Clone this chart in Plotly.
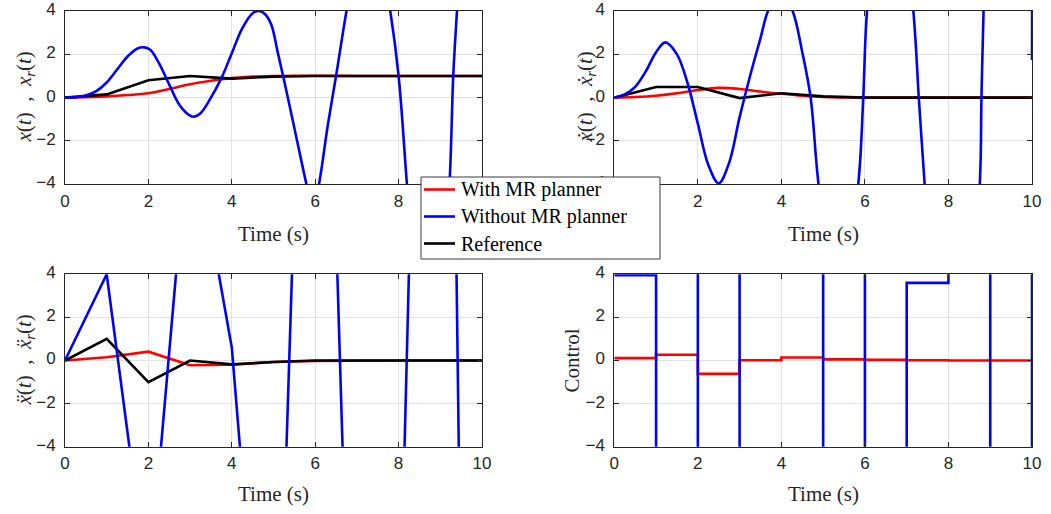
import plotly.graph_objects as go

# ---------------- data ----------------
t_knots = [0, 1, 2, 3, 4, 5, 6, 7, 8, 9, 10]

# position x(t)
pos_with_t = [0, 0.5, 1, 1.5, 2, 2.5, 3, 3.5, 4, 4.5, 5, 5.5, 6, 7, 8, 9, 10]
pos_with = [0, 0.02, 0.06, 0.12, 0.2, 0.4, 0.62, 0.78, 0.9, 0.97, 1.0, 1.01, 1.01, 1.0, 1.0, 1.0, 1.0]
pos_without_t = [0, 0.25, 0.5, 0.75, 1.0, 1.25, 1.5, 1.75, 1.9, 2.05, 2.25, 2.5, 2.75, 3.0, 3.1,
                 3.25, 3.5, 3.75, 4.0, 4.25, 4.5, 4.65, 4.8, 4.95, 5.1, 5.23, 5.4, 5.55, 5.79,
                 5.94, 6.09, 6.3, 6.5, 6.75, 7.0, 7.27, 7.55, 7.8, 8.0, 8.2, 8.45, 8.7, 8.95,
                 9.22, 9.31, 9.4, 9.7, 10.0]
pos_without = [0, 0.02, 0.1, 0.3, 0.7, 1.3, 1.9, 2.28, 2.32, 2.2, 1.6, 0.6, -0.35, -0.83, -0.88,
               -0.72, 0.0, 0.9, 2.05, 3.2, 3.9, 4.0, 3.85, 3.35, 2.1, 1.0, -0.5, -1.85, -4.0,
               -5.2, -4.0, -1.3, 1.0, 4.0, 6.6, 7.5, 6.6, 4.0, 1.0, -4.0, -10.0, -12.3, -11.0,
               -4.0, 1.0, 4.0, 13.0, 19.0]
pos_ref = [0, 0.15, 0.8, 1.0, 0.88, 0.97, 1.0, 1.0, 1.0, 1.0, 1.0]

# velocity
vel_with_t = [0, 0.5, 1, 1.5, 2, 2.5, 3, 3.5, 4, 4.5, 5, 5.5, 6, 7, 8, 9, 10]
vel_with = [0, 0.03, 0.09, 0.2, 0.35, 0.45, 0.4, 0.28, 0.18, 0.09, 0.03, 0.01, 0, 0, 0, 0, 0]
vel_without_t = [0, 0.25, 0.5, 0.75, 1.0, 1.22, 1.5, 1.75, 2.0, 2.25, 2.5, 2.75, 3.0, 3.25, 3.5,
                 3.68, 3.98, 4.27, 4.5, 4.7, 4.89, 5.37, 5.84, 5.96, 6.05, 6.6, 7.16, 7.29,
                 7.43, 8.09, 8.75, 8.79, 8.84, 9.45, 9.9, 10.0]
vel_without = [0, 0.15, 0.5, 1.2, 2.1, 2.55, 2.0, 0.7, -1.2, -3.1, -3.95, -3.0, -0.9, 1.0, 2.75,
               4.0, 5.0, 4.0, 2.1, 0.0, -4.0, -10.4, -4.0, 0.0, 4.0, 14.2, 4.0, 0.0,
               -4.0, -22.0, -4.0, 0.0, 4.0, 45.0, 30.0, 1.74]
vel_ref = [0, 0.49, 0.49, -0.02, 0.2, 0.06, 0, 0, 0, 0, 0]

# acceleration
acc_with = [0, 0.15, 0.41, -0.22, -0.2, -0.07, -0.02, 0, 0, 0, 0]
acc_without = [0, 4.0, -10.7, 11.5, 0.6, -23.0, 38.0, -26.0, -15.0, 62.0, -87.0]
acc_ref = [0, 1.0, -1.0, 0.0, -0.18, -0.07, 0, 0, 0, 0, 0]

# control (piecewise constant)
ctrl_with = [0.11, 0.27, -0.62, 0.01, 0.14, 0.05, 0.03, 0.01, 0, 0, 0]
ctrl_without = [3.96, -20, 20, -20, -20, 20, -20, 3.6, 20, -20, 20]

series_names = ["With MR planner", "Without MR planner", "Reference"]
x_ticks = [0, 2, 4, 6, 8, 10]
y_ticks = [-4, -2, 0, 2, 4]

# ---------------- styling ----------------
RED, BLUE, BLACK = "rgb(255,0,0)", "rgb(0,0,255)", "rgb(0,0,0)"
series_colors = [RED, BLUE, BLACK]
LW = 2.6
AX = "#262626"
SERIF = "Liberation Serif, Times New Roman, serif"
SANS = "Liberation Sans, Arial, sans-serif"

W, H = 1051, 514
def px_x(p): return p / W
def px_y(p): return 1 - p / H

left_dom = [px_x(65), px_x(482)]
right_dom = [px_x(614.3), px_x(1032)]
top_dom = [px_y(184.3), px_y(11)]
bot_dom = [px_y(446.7), px_y(274.3)]

fig = go.Figure()

def add(xa, ya, x, y, color, name, shape):
    fig.add_trace(go.Scatter(
        x=x, y=y, mode="lines", name=name, showlegend=False,
        line=dict(color=color, width=LW, shape=shape),
        xaxis=xa, yaxis=ya, hoverinfo="skip"))

# subplot 1: position
add("x", "y", pos_with_t, pos_with, RED, series_names[0], "spline")
add("x", "y", t_knots, pos_ref, BLACK, series_names[2], "linear")
add("x", "y", pos_without_t, pos_without, BLUE, series_names[1], "spline")
# subplot 2: velocity
add("x2", "y2", vel_with_t, vel_with, RED, series_names[0], "spline")
add("x2", "y2", t_knots, vel_ref, BLACK, series_names[2], "linear")
add("x2", "y2", vel_without_t, vel_without, BLUE, series_names[1], "spline")
# subplot 3: acceleration
add("x3", "y3", t_knots, acc_with, RED, series_names[0], "linear")
add("x3", "y3", t_knots, acc_ref, BLACK, series_names[2], "linear")
add("x3", "y3", t_knots, acc_without, BLUE, series_names[1], "linear")
# subplot 4: control
add("x4", "y4", t_knots, ctrl_with, RED, series_names[0], "hv")
add("x4", "y4", t_knots, ctrl_without, BLUE, series_names[1], "hv")

def xaxis(dom, anchor):
    return dict(domain=dom, anchor=anchor, range=[0, 10], tickvals=x_ticks,
                showgrid=True, gridcolor="#e3e3e3", gridwidth=1, zeroline=False,
                showline=True, linecolor=AX, linewidth=1, mirror="ticks",
                ticks="inside", ticklen=5, tickcolor=AX, tickwidth=1,
                ticklabelstandoff=1, automargin=False, ticklabeloverflow="allow",
                tickfont=dict(family=SANS, size=17, color=AX), fixedrange=True)

def yaxis(dom, anchor):
    return dict(domain=dom, anchor=anchor, range=[-4, 4], tickvals=y_ticks,
                showgrid=True, gridcolor="#e3e3e3", gridwidth=1, zeroline=False,
                showline=True, linecolor=AX, linewidth=1, mirror="ticks",
                ticks="inside", ticklen=5, tickcolor=AX, tickwidth=1,
                ticklabelstandoff=5, ticklabelshift=-2, automargin=False,
                ticklabeloverflow="allow",
                tickfont=dict(family=SANS, size=17, color=AX), fixedrange=True)

fig.update_layout(
    width=W, height=H, margin=dict(l=0, r=0, t=0, b=0, autoexpand=False),
    paper_bgcolor="white", plot_bgcolor="white",
    xaxis=xaxis(left_dom, "y"), yaxis=yaxis(top_dom, "x"),
    xaxis2=xaxis(right_dom, "y2"), yaxis2=yaxis(top_dom, "x2"),
    xaxis3=xaxis(left_dom, "y3"), yaxis3=yaxis(bot_dom, "x3"),
    xaxis4=xaxis(right_dom, "y4"), yaxis4=yaxis(bot_dom, "x4"),
    showlegend=False,
)

ann = []
shapes = []
tf = dict(family=SERIF, size=21, color=AX)
for xc in [(65 + 482) / 2, (614.3 + 1032) / 2]:
    ann.append(dict(text="Time (s)", x=px_x(xc), y=px_y(234), xref="paper", yref="paper",
                    showarrow=False, xanchor="center", yanchor="middle", font=tf))
    ann.append(dict(text="Time (s)", x=px_x(xc), y=px_y(494), xref="paper", yref="paper",
                    showarrow=False, xanchor="center", yanchor="middle", font=tf))

ylabels = [
    ("<i>x</i>(<i>t</i>)  ,  <i>x</i><sub><i>r</i></sub>(<i>t</i>)", 24, 97.5),
    ("<i>\u1e8b</i>(<i>t</i>)  ,  <i>\u1e8b</i><sub><i>r</i></sub>(<i>t</i>)", 585, 97.5),
    ("<i>\u1e8d</i>(<i>t</i>)  ,  <i>\u1e8d</i><sub><i>r</i></sub>(<i>t</i>)", 24, 360.5),
    ("Control", 571, 360.5),
]
for txt, xc, yc in ylabels:
    ann.append(dict(text=txt, x=px_x(xc), y=px_y(yc), xref="paper", yref="paper",
                    showarrow=False, xanchor="center", yanchor="middle", textangle=-90,
                    font=tf))

# legend box (drawn above the plots)
shapes.append(dict(type="rect", xref="paper", yref="paper", layer="above",
                   x0=px_x(421), x1=px_x(660), y0=px_y(259), y1=px_y(177),
                   fillcolor="white", line=dict(color="#3a3a3a", width=1)))
for i, (nm, col) in enumerate(zip(series_names, series_colors)):
    yc = 189.5 + 27 * i
    shapes.append(dict(type="line", xref="paper", yref="paper", layer="above",
                       x0=px_x(424), x1=px_x(455), y0=px_y(yc), y1=px_y(yc),
                       line=dict(color=col, width=LW)))
    ann.append(dict(text=nm, x=px_x(459), y=px_y(yc), xref="paper", yref="paper",
                    showarrow=False, xanchor="left", yanchor="middle",
                    font=dict(family=SERIF, size=20, color="black")))

fig.update_layout(annotations=ann, shapes=shapes)

fig.write_html("out.html", config={"displayModeBar": False},
               post_script="document.body.style.margin='0';")
